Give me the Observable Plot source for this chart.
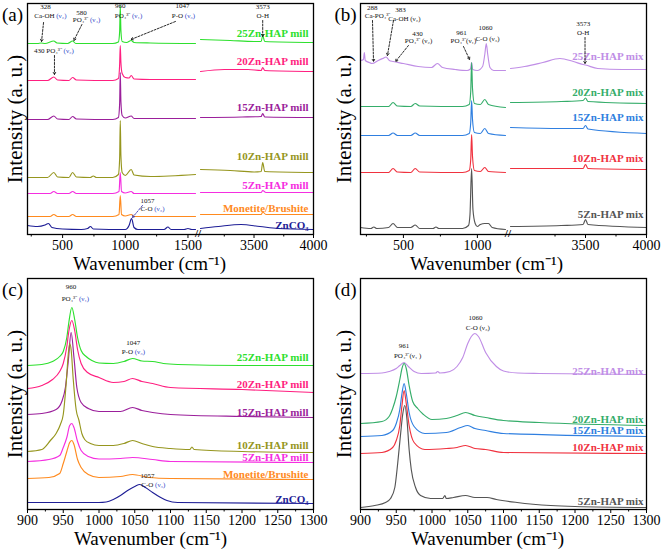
<!DOCTYPE html>
<html><head><meta charset="utf-8">
<script src="https://cdn.jsdelivr.net/npm/d3@7"></script>
<script src="https://cdn.jsdelivr.net/npm/@observablehq/plot@0.6"></script>
<style>
body{margin:0;background:#fff;}
#fig{position:relative;width:661px;height:552px;overflow:hidden;background:#fff;}
</style></head><body><div id="fig"></div>
<script>
// ---------- Panel (a): milled samples [wavenumber cm-1, intensity a.u.] ----------
const millNames = ["25Zn-HAP mill","20Zn-HAP mill","15Zn-HAP mill","10Zn-HAP mill","5Zn-HAP mill","Monetite/Brushite","ZnCO₃"];
const millColors = ["#2ee02e","#ff1f80","#9b1f9b","#96961e","#f52ee0","#ff8a1e","#1e1e96"];

const a25Low = [[220,191],[300,191],[328,191.5],[360,191],[430,193.5],[455,191.5],[540,191],[580,193.5],[605,191],[900,191],[945,192.5],[955,203],[960,229],[965,204],[975,193],[1010,192],[1047,194],[1070,192],[1200,191.5],[1560,191]];
const a25High = [[3050,195],[3300,194],[3500,193],[3560,193],[3573,199],[3590,193],[4000,192]];
const a20Low = [[220,154],[380,154],[430,157.5],[460,154.5],[550,154],[580,157],[610,154.5],[900,154],[945,156],[955,170],[960,189],[965,172],[975,161],[1000,157],[1030,156.5],[1047,159],[1070,155.5],[1200,155],[1560,155]];
const a20High = [[3050,163],[3250,165],[3450,165],[3560,164],[3573,167],[3590,164],[4000,163]];
const a15Low = [[220,115],[380,115],[430,118.5],[460,115.5],[550,115],[580,118],[610,115.5],[900,115],[945,117],[955,131],[960,162],[965,133],[975,119],[1000,116.5],[1047,118.5],[1070,116],[1560,116]];
const a15High = [[3050,117],[3400,117.5],[3560,118],[3573,121],[3590,117.5],[4000,117]];
const a10Low = [[220,57],[380,57],[430,62],[460,57.5],[550,57],[580,62],[610,57.5],[720,57],[745,58.5],[770,57],[900,57],[945,60],[955,76],[960,114],[965,79],[975,62],[1000,59],[1047,65],[1070,59.5],[1200,58],[1560,60]];
const a10High = [[3050,65],[3300,64],[3500,62.5],[3560,63],[3573,72],[3590,63],[4000,62]];
const a5Low = [[220,41],[400,41],[430,43],[460,41],[550,41],[580,43],[610,41],[900,41],[950,43],[960,62],[970,43],[1000,41.5],[1047,43],[1070,41],[1560,41]];
const a5High = [[3050,42],[3500,42],[3560,42],[3573,44],[3600,42],[4000,42]];
const aMonLow = [[220,18],[400,18],[430,20],[460,18],[550,18],[580,20],[610,18],[900,18],[950,20],[960,39],[970,20],[1000,18.5],[1047,20],[1070,18],[1560,18]];
const aMonHigh = [[3050,20],[3500,20],[3560,20],[3573,22.5],[3600,20],[4000,20]];
const aZnLow = [[220,9],[300,8],[360,9.5],[387,11],[415,7],[500,5.5],[650,5],[700,6],[722,8],[745,5.5],[1000,5],[1030,9],[1050,16],[1070,7],[1100,5],[1310,5],[1340,7.5],[1365,5],[1470,5],[1500,6],[1530,5],[1560,5]];
const aZnHigh = [[3050,6],[3200,8],[3390,10],[3550,8],[3700,6],[4000,5]];
const aLabelY = [201,173,127,78,49,26,9];
const aTicks = [500,1000,1500,3500,4000];
const aMinor = [250,750,1250,3250,3750];
const aNotes = [
  {x:364,y:228,t:"328"},{x:403,y:219,t:"Ca-OH (ν₂)"},
  {x:651,y:222,t:"580"},{x:691,y:215,t:"PO₄³⁻ (ν₄)"},
  {x:960,y:229,t:"960"},{x:1026,y:219,t:"PO₄³⁻ (ν₁)"},
  {x:1456,y:229,t:"1047"},{x:1464,y:219,t:"P-O (ν₃)"},
  {x:3573,y:228,t:"3573"},{x:3573,y:219,t:"O-H"},
  {x:431,y:184,t:"430 PO₄³⁻ (ν₂)"},
  {x:1177,y:34,t:"1057"},{x:1217,y:26,t:"C-O (ν₃)"}
];
const aArrows = [
  {x1:348,y1:212,x2:332,y2:193},
  {x1:654,y1:210,x2:590,y2:194},
  {x1:1400,y1:213,x2:1045,y2:195},
  {x1:3573,y1:214,x2:3573,y2:198},
  {x1:435,y1:179,x2:435,y2:160}
];
const aArrowsZn = [{x1:1137,y1:29,x2:1057,y2:17}];

// ---------- Panel (b): mixed samples ----------
const mixNames = ["25Zn-HAP mix","20Zn-HAP mix","15Zn-HAP mix","10Zn-HAP mix","5Zn-HAP mix"];
const mixColors = ["#c08ee6","#35ad6a","#2f7fe0","#f0323f","#555555"];
const b25Low = [[210,174],[230,175],[236,182],[242,174],[270,172],[288,171],[330,174],[360,176],[383,177.5],[405,174],[430,173],[500,171],[600,168],[690,167],[730,171],[765,167],[850,165],[930,164],[953,165.5],[961,172],[968,165],[1000,164],[1035,168],[1050,180],[1060,191],[1070,180],[1085,167],[1110,164],[1190,164]];
const b25High = [[2885,166],[3000,168],[3150,172],[3290,176],[3400,173],[3480,170],[3500,169.5],[3600,166],[3800,165],[4000,165]];
const b20Low = [[210,128],[400,128],[430,132],[460,128.5],[550,128],[580,131],[610,128.5],[900,128],[945,130],[955,143],[961,172],[967,146],[980,131],[1020,130],[1050,135],[1075,130],[1190,127]];
const b20High = [[2885,132],[3300,133],[3480,134],[3500,136.5],[3520,133],[4000,131]];
const b15Low = [[210,99],[400,99],[430,101.5],[460,99],[550,99],[580,101.5],[610,99],[900,99],[945,101],[955,112],[961,134],[967,115],[980,102],[1020,101],[1050,106],[1075,101],[1190,99]];
const b15High = [[2885,107],[3300,106],[3480,106],[3500,109],[3520,105.5],[4000,101]];
const b10Low = [[210,62],[400,62],[430,66],[460,62.5],[550,62],[580,66],[610,62.5],[900,62],[945,64],[955,75],[961,100],[967,78],[980,64],[1020,63],[1050,67],[1075,63],[1190,62]];
const b10High = [[2885,66],[3300,66],[3480,66],[3500,70],[3520,66],[4000,65]];
const b5Low = [[210,7],[280,6],[300,7.5],[320,6],[400,7],[430,11],[460,7],[550,7],[580,9.5],[610,6],[700,6],[720,7.5],[740,6],[900,6],[940,9],[950,20],[961,66],[970,25],[985,11],[1000,8],[1020,10],[1050,11],[1075,11],[1100,7],[1190,5]];
const b5High = [[2885,8],[3300,9],[3480,10],[3500,15],[3520,10],[4000,7]];
const bLabelY = [178,142,117,76,20];
const bTicks = [500,1000,3500,4000];
const bMinor = [250,750,3250,3750];
const bNotes = [
  {x:290,y:227,t:"288"},{x:325,y:219,t:"Ca-PO₄³⁻"},
  {x:480,y:225,t:"383"},{x:507,y:216,t:"Ca-OH (ν₂)"},
  {x:595,y:201,t:"430"},{x:602,y:194,t:"PO₄³⁻ (ν₂)"},
  {x:893,y:202,t:"961"},{x:906,y:194,t:"PO₄³⁻(ν₁)"},
  {x:1055,y:207,t:"1060"},{x:1068,y:196,t:"C-O (ν₃)"},
  {x:3481,y:211,t:"3573"},{x:3481,y:202,t:"O-H"}
];
const bArrows = [
  {x1:291,y1:214,x2:298,y2:173},
  {x1:433,y1:214,x2:392,y2:179},
  {x1:534,y1:189,x2:447,y2:173},
  {x1:906,y1:188,x2:947,y2:175},
  {x1:3496,y1:197,x2:3496,y2:171}
];

// ---------- Panel (c): milled samples, 900-1300 cm-1 ----------
const c25 = [[900,144],[920,145],[935,148],[945,153],[950,158],[955,172],[958,188],[962,202],[966,190],[970,172],[975,159],[982,153],[990,149],[1000,146.5],[1020,146],[1035,148],[1047,151],[1060,148.5],[1075,148],[1090,146],[1110,145],[1200,144],[1300,144]];
const c20 = [[900,121],[920,124],[935,130],[945,138],[950,146],[955,163],[958,179],[962,189],[966,179],[970,160],[975,146],[984,137],[1000,132],[1020,127],[1035,128],[1047,131],[1060,128],[1075,126],[1100,122],[1200,120],[1300,117]];
const c15 = [[900,95],[920,96],[940,100],[948,108],[953,122],[957,148],[961,177],[965,152],[969,122],[975,107],[985,101],[1000,98],[1030,98],[1047,102],[1060,99],[1075,97],[1100,95],[1200,93],[1300,92]];
const c10 = [[900,58],[920,60],[932,69],[940,76],[946,85],[950,95],[954,125],[957,155],[959,166],[961,160],[964,130],[968,100],[972,89],[976,76],[980,70],[988,66],[1000,64],[1020,64],[1035,66],[1047,69],[1060,66],[1075,63],[1100,61],[1127,60],[1130,62.5],[1133,60],[1200,58],[1300,57]];
const c5 = [[900,48],[930,50],[945,54],[950,62],[955,72],[959,84],[962,86],[965,82],[970,68],[975,59],[985,53],[1000,50.5],[1030,51],[1047,52],[1075,50],[1100,48],[1300,47]];
const cMon = [[900,31],[930,32],[945,36],[950,46],[955,58],[959,67],[962,69],[965,65],[970,50],[975,42],[985,35],[1000,32],[1030,33],[1047,35],[1070,32],[1100,31],[1300,30]];
const cZn = [[900,7],[1000,7],[1010,7.5],[1020,10],[1030,14],[1040,19],[1050,23],[1057,25],[1065,22],[1075,17],[1085,12.5],[1095,9],[1110,7],[1300,6]];
const cLabelY = [152,125,97,64,52,35,10];
const zoomTicks = [900,950,1000,1050,1100,1150,1200,1250,1300];
const zoomMinor = [925,975,1025,1075,1125,1175,1225,1275];
const cNotes = [
  {x:961,y:223,t:"960"},{x:967,y:211,t:"PO₄³⁻ (ν₁)"},
  {x:1048,y:167,t:"1047"},{x:1048,y:158,t:"P-O (ν₃)"},
  {x:1068,y:34,t:"1057"},{x:1076,y:25,t:"C-O (ν₃)"}
];

// ---------- Panel (d): mixed samples, 900-1300 cm-1 ----------
const d25 = [[900,136],[930,136.5],[940,138],[950,141],[955,144],[961,147],[967,143],[975,138],[985,136],[1005,136.5],[1008,138],[1011,136.5],[1025,138],[1035,143],[1043,152],[1050,166],[1055,173],[1060,176],[1065,173],[1075,157],[1090,143],[1100,138.5],[1120,136.5],[1150,136],[1300,135]];
const d20 = [[900,86],[930,88],[940,93],[945,101],[950,113],[955,130],[958,141],[961,146],[964,141],[968,124],[973,108],[980,101],[988,95],[1000,90],[1020,91],[1035,94],[1047,97],[1060,94],[1075,92],[1100,89],[1150,87],[1300,84]];
const d15 = [[900,73],[930,74],[945,79],[950,86],[955,100],[958,116],[961,126],[964,116],[968,97],[975,83],[990,76],[1020,77],[1040,82],[1050,84],[1060,81],[1075,79],[1100,76],[1300,73]];
const d10 = [[900,56],[930,57],[945,62],[950,69],[955,84],[958,104],[961,119],[964,106],[968,84],[975,67],[990,60],[1020,61],[1035,62],[1047,64],[1060,61],[1075,60],[1100,57],[1300,56]];
const d5 = [[900,2],[920,4],[935,7],[942,11],[948,22],[952,46],[956,75],[959,95],[962,104],[965,90],[968,60],[971,40],[977,22],[984,14],[998,11],[1015,11],[1018,14],[1020,11],[1030,12],[1047,14],[1060,12],[1077,12],[1090,10],[1119,7],[1166,4],[1200,3],[1300,2]];
const dLabelY = [138,90,79,62,8];
const dNotes = [
  {x:961,y:164,t:"961"},{x:966,y:154,t:"PO₄³⁻(ν₁ )"},
  {x:1061,y:192,t:"1060"},{x:1064,y:182,t:"C-O (ν₃)"}
];

// ---------- drawing ----------
const fig = document.getElementById("fig");
const SERIF = '"Liberation Serif","Times New Roman",serif';

function panel(cfg) {
  const rows = [];
  cfg.names.forEach((n, i) => cfg.spectra[i].forEach((seg, j) =>
    seg.forEach(([x, y]) => rows.push({x, y, s: n, z: n + "|" + j}))));
  const labelRows = cfg.names.map((n, i) => ({s: n, y: cfg.labelY[i]}));
  const marks = [
    Plot.line(rows, {x: "x", y: "y", z: "z", stroke: "s", strokeWidth: 1.15, curve: "monotone-x"}),
    Plot.text(labelRows, {y: "y", text: "s", fill: "s", frameAnchor: "right", textAnchor: "end", lineAnchor: "middle", dx: cfg.labelDx, fontSize: 11, fontWeight: "bold"}),
    Plot.text(cfg.notes, {x: "x", y: "y", text: "t", fontSize: 7, fill: "#111"}),
    Plot.arrow(cfg.arrows, {x1: "x1", y1: "y1", x2: "x2", y2: "y2", stroke: "#111", strokeWidth: 0.9, strokeDasharray: "2,1.5", headLength: 4})
  ];
  if (cfg.arrows2) marks.push(Plot.arrow(cfg.arrows2, {x1: "x1", y1: "y1", x2: "x2", y2: "y2", stroke: "#3434b0", strokeWidth: 0.9, strokeDasharray: "2,1.5", headLength: 4}));
  marks.push(
    Plot.frame({stroke: "black", strokeWidth: 1.3}),
    Plot.axisX({ticks: cfg.ticks, tickSize: 4, tickPadding: 2, tickFormat: "d", fontSize: 14, label: null, stroke: "black"}),
    Plot.axisX({ticks: cfg.minor, tickSize: 2.5, tickFormat: () => "", label: null, stroke: "black"}),
    Plot.text([cfg.tag], {frameAnchor: "top-left", textAnchor: "middle", lineAnchor: "middle", dx: -15, dy: 11, fontSize: 19, text: d => d}),
    Plot.text(["Intensity (a. u.)"], {frameAnchor: "left", textAnchor: "middle", lineAnchor: "middle", rotate: -90, dx: cfg.yDx, fontSize: 21, text: d => d}),
    Plot.text(["Wavenumber (cm⁻¹)"], {frameAnchor: "bottom", textAnchor: "middle", lineAnchor: "middle", dx: cfg.xDx, dy: 29, fontSize: 19, text: d => d})
  );
  if (cfg.gap) marks.push(Plot.text([cfg.gap], {x: d => d, frameAnchor: "bottom", lineAnchor: "middle", dy: -1, text: () => "//", fontSize: 11, fontWeight: "bold"}));
  const svg = Plot.plot({
    width: cfg.width, height: 276,
    marginLeft: cfg.ml, marginRight: cfg.mr, marginTop: 3, marginBottom: 42,
    style: {fontFamily: SERIF, fontSize: "14px", background: "transparent", overflow: "visible", color: "black",
            position: "absolute", left: cfg.left + "px", top: cfg.top + "px", maxWidth: "none"},
    x: {type: "linear", domain: cfg.xDomain, range: cfg.xRange},
    y: {domain: [0, 231], axis: null},
    color: {domain: cfg.names, range: cfg.colors},
    marks
  });
  if (cfg.blue) {
    d3.select(svg).selectAll("text").each(function () {
      if (this.childElementCount) return;
      const m = this.textContent.match(/^(.*?)(\(ν[^)]*\))$/);
      if (!m) return;
      this.textContent = m[1];
      d3.select(this).append("tspan").attr("fill", "#2b3fc8").text(m[2]);
    });
  }
  fig.appendChild(svg);
}

panel({left: 0, top: 0, width: 330, ml: 27, mr: 17, tag: "(a)", yDx: -12, xDx: -21, labelDx: -5,
  xDomain: [220, 1560, 3050, 4000], xRange: [27, 195, 200, 313], gap: 2300,
  names: millNames, colors: millColors,
  spectra: [[a25Low,a25High],[a20Low,a20High],[a15Low,a15High],[a10Low,a10High],[a5Low,a5High],[aMonLow,aMonHigh],[aZnLow,aZnHigh]],
  labelY: aLabelY, ticks: aTicks, minor: aMinor, notes: aNotes, arrows: aArrows, arrows2: aArrowsZn, blue: true});

panel({left: 330, top: 0, width: 331, ml: 30, mr: 15, tag: "(b)", yDx: -16, xDx: -17, labelDx: -3,
  xDomain: [210, 1190, 2885, 4000], xRange: [30, 175, 180, 316], gap: 2000,
  names: mixNames, colors: mixColors,
  spectra: [[b25Low,b25High],[b20Low,b20High],[b15Low,b15High],[b10Low,b10High],[b5Low,b5High]],
  labelY: bLabelY, ticks: bTicks, minor: bMinor, notes: bNotes, arrows: bArrows, blue: false});

panel({left: 0, top: 275, width: 330, ml: 27, mr: 17, tag: "(c)", yDx: -12, xDx: -20, labelDx: -5,
  xDomain: [900, 1300], xRange: [27, 313],
  names: millNames, colors: millColors,
  spectra: [[c25],[c20],[c15],[c10],[c5],[cMon],[cZn]],
  labelY: cLabelY, ticks: zoomTicks, minor: zoomMinor, notes: cNotes, arrows: [], blue: true});

panel({left: 330, top: 275, width: 331, ml: 30, mr: 15, tag: "(d)", yDx: -16, xDx: -16, labelDx: -3,
  xDomain: [900, 1300], xRange: [30, 316],
  names: mixNames, colors: mixColors,
  spectra: [[d25],[d20],[d15],[d10],[d5]],
  labelY: dLabelY, ticks: zoomTicks, minor: zoomMinor, notes: dNotes, arrows: [], blue: false});
</script></body></html>
